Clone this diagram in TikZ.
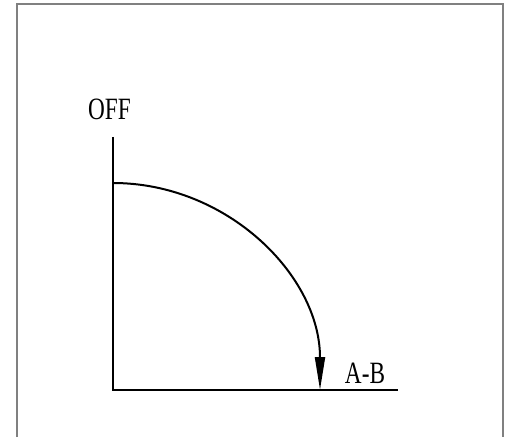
\documentclass[tikz,border=0pt]{standalone}
\usepackage{fontspec}
\setmainfont{Liberation Serif}
\usetikzlibrary{arrows.meta, positioning}

\begin{document}
\begin{tikzpicture}[
    x=1pt, y=1pt,
    axis/.style={line width=2.2pt},
    frame/.style={line width=2pt, draw=black!50},
    label/.style={font=\fontsize{31}{31}\selectfont, inner sep=0pt, xscale=0.75, transform shape},
    curve/.style={line width=2pt, -{Triangle[length=33pt, width=10pt]}}
]
    \useasboundingbox (0,0) rectangle (508,437);

    % 外框
    \draw[frame] (17,0) -- (17,432.5) -- (503,432.5) -- (503,0);

    % 坐标轴
    \coordinate (origin) at (113,47);
    \coordinate (ytop) at (113,300);
    \coordinate (xend) at (398,47);
    \draw[axis] (ytop) -- (origin) -- (xend);

    % 标签
    \node[label] (off) at (109.5,328) {OFF};
    \node[label] (ab) at (365,64) {A-B};

    % 圆弧
    \coordinate (start) at (113,254);
    \draw[curve] (start) arc[start angle=90, end angle=0, radius=207];
\end{tikzpicture}
\end{document}
